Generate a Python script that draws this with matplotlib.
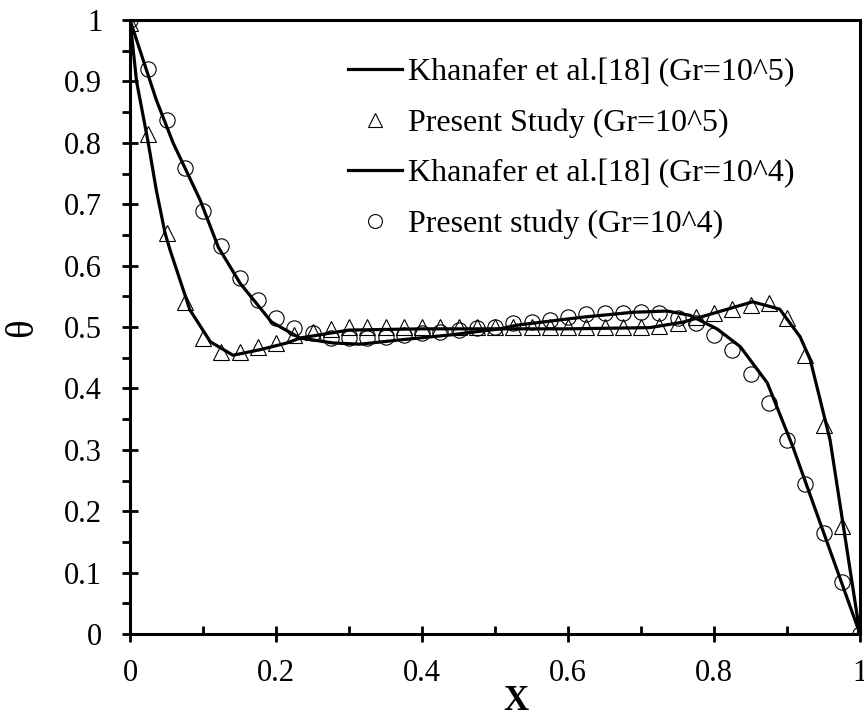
import numpy as np
import matplotlib
matplotlib.use("Agg")
import matplotlib.pyplot as plt
from matplotlib.lines import Line2D
from matplotlib.ticker import MultipleLocator, FormatStrFormatter

plt.rcParams['font.family'] = ['Liberation Serif', 'DejaVu Serif']

# present study, markers every 0.025 in X
x_pts = [0.0, 0.025, 0.05, 0.075, 0.1, 0.125, 0.15, 0.175, 0.2, 0.225,
         0.25, 0.275, 0.3, 0.325, 0.35, 0.375, 0.4, 0.425, 0.45, 0.475,
         0.5, 0.525, 0.55, 0.575, 0.6, 0.625, 0.65, 0.675, 0.7, 0.725,
         0.75, 0.775, 0.8, 0.825, 0.85, 0.875, 0.9, 0.925, 0.95, 0.975, 1.0]
theta_gr4 = [1.0, 0.92, 0.837, 0.759, 0.689, 0.632, 0.58, 0.544, 0.515, 0.498,
             0.49, 0.482, 0.482, 0.482, 0.484, 0.487, 0.49, 0.492, 0.495, 0.498,
             0.5, 0.506, 0.508, 0.511, 0.517, 0.521, 0.523, 0.523, 0.524, 0.522,
             0.515, 0.506, 0.487, 0.462, 0.423, 0.376, 0.316, 0.244, 0.165, 0.085, 0.0]
theta_gr5 = [0.995, 0.815, 0.653, 0.54, 0.482, 0.459, 0.459, 0.467, 0.474, 0.487,
             0.492, 0.497, 0.5, 0.5, 0.5, 0.5, 0.5, 0.5, 0.5, 0.5,
             0.5, 0.5, 0.5, 0.5, 0.5, 0.5, 0.5, 0.5, 0.5, 0.502,
             0.507, 0.516, 0.522, 0.529, 0.536, 0.539, 0.515, 0.454, 0.34, 0.176, 0.0]

kh5_x = [0.0, 0.009, 0.025, 0.036, 0.048, 0.055, 0.082, 0.11, 0.141, 0.178, 0.215,
         0.233, 0.3, 0.4, 0.5, 0.6, 0.712, 0.758, 0.804, 0.853, 0.89, 0.918,
         0.932, 0.959, 1.0]
kh5_y = [1.0, 0.9, 0.8, 0.723, 0.653, 0.625, 0.528, 0.476, 0.454, 0.463, 0.474,
         0.482, 0.495, 0.497, 0.497, 0.497, 0.499, 0.508, 0.524, 0.541, 0.529, 0.484,
         0.446, 0.316, 0.0]
kh4_x = [0.0, 0.036, 0.059, 0.096, 0.121, 0.151, 0.194, 0.233, 0.278, 0.315, 0.37,
         0.438, 0.507, 0.53, 0.62, 0.689, 0.736, 0.767, 0.804, 0.836, 0.873, 0.908, 1.0]
kh4_y = [1.0, 0.87, 0.8, 0.707, 0.63, 0.571, 0.508, 0.482, 0.474, 0.472, 0.479,
         0.487, 0.497, 0.503, 0.516, 0.524, 0.526, 0.519, 0.497, 0.468, 0.409, 0.305, 0.0]

fig = plt.figure(figsize=(8.64, 7.15), dpi=100)
ax = fig.add_axes([130 / 864, 1 - 634 / 715, 730 / 864, 614 / 715])

ax.plot(kh5_x, kh5_y, color='k', lw=2.3, zorder=3)
ax.plot(x_pts, theta_gr5, ls='none', marker='^', ms=11, mfc='none', mec='k', mew=0.8, zorder=2)
ax.plot(kh4_x, kh4_y, color='k', lw=2.3, zorder=3)
ax.plot(x_pts, theta_gr4, ls='none', marker='o', ms=11, mfc='none', mec='k', mew=0.8, zorder=2)

ax.set_xlim(0, 1)
ax.set_ylim(0, 1)
ax.xaxis.set_major_locator(MultipleLocator(0.2))
ax.xaxis.set_minor_locator(MultipleLocator(0.1))
ax.yaxis.set_major_locator(MultipleLocator(0.1))
ax.yaxis.set_minor_locator(MultipleLocator(0.05))
ax.xaxis.set_major_formatter(FormatStrFormatter('%g'))
ax.yaxis.set_major_formatter(FormatStrFormatter('%g'))

for s in ax.spines.values():
    s.set_linewidth(2.2)
ax.tick_params(axis='x', which='major', direction='inout', length=12, width=2, labelsize=22, pad=12)
ax.tick_params(axis='x', which='minor', direction='in', length=6, width=2)
ax.tick_params(axis='y', which='major', direction='inout', length=12, width=2, labelsize=22, pad=14)
ax.tick_params(axis='y', which='minor', direction='out', length=6, width=2)

ax.set_xlabel('X', fontsize=25, fontweight='bold')
ax.xaxis.set_label_coords((516 - 130) / 730, -(702 - 634) / 614)
ax.xaxis.label.set_va('center')
ax.set_ylabel('θ', fontsize=28)
ax.yaxis.set_label_coords(-(130 - 23) / 730, (634 - 328) / 614)
ax.yaxis.label.set_va('center')

handles = [
    Line2D([], [], color='k', lw=2.3),
    Line2D([], [], ls='none', marker='^', ms=10, mfc='none', mec='k', mew=0.8),
    Line2D([], [], color='k', lw=2.3),
    Line2D([], [], ls='none', marker='o', ms=10, mfc='none', mec='k', mew=0.8),
]
labels = ['Khanafer et al.[18] (Gr=10^5)', 'Present Study (Gr=10^5)',
          'Khanafer et al.[18] (Gr=10^4)', 'Present study (Gr=10^4)']
ax.legend(handles, labels, loc='upper left', bbox_to_anchor=(348 / 864, 1 - 58 / 715),
          bbox_transform=fig.transFigure, frameon=False, fontsize=23,
          handlelength=1.69, handletextpad=0.19, labelspacing=0.66,
          borderpad=0, borderaxespad=0)

fig.savefig('out.png', dpi=100)
